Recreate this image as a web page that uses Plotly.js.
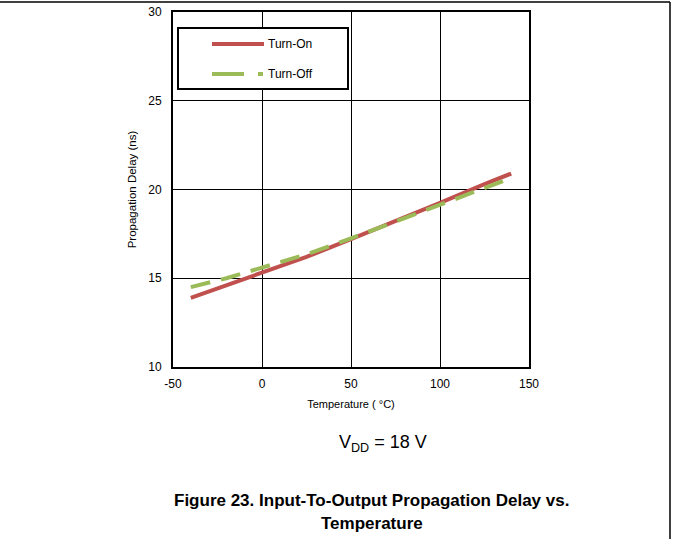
<!DOCTYPE html>
<html>
<head>
<meta charset="utf-8">
<script src="https://cdn.plot.ly/plotly-3.0.1.min.js"></script>
<style>html,body{margin:0;padding:0;background:#fff;}#chart{width:673px;height:539px;}</style>
</head>
<body>
<div id="chart"></div>
<script>
// Data
var temperature = [-40, -20, 0, 25, 50, 75, 100, 125, 140];
var turnOn  = [13.9, 14.6, 15.35, 16.2, 17.2, 18.2, 19.25, 20.3, 20.9];
var turnOff = [14.5, 15.0, 15.6, 16.35, 17.25, 18.2, 19.15, 20.05, 20.65];
var seriesNames = ["Turn-On", "Turn-Off"];
var xTicks = [-50, 0, 50, 100, 150];
var yTicks = [10, 15, 20, 25, 30];

var FONT = "Liberation Sans, Arial, sans-serif";
var L = 173, R = 144, T = 12, B = 172, W = 673, H = 539;
var PW = W - L - R, PH = H - T - B;
function fx(px) { return (px - L) / PW; }
function fy(py) { return (T + PH - py) / PH; }

var red = "#C0504D";
var green = "#9BBB59";

var traces = [
  { x: temperature, y: turnOn, name: seriesNames[0], mode: "lines", type: "scatter",
    line: { color: red, width: 4 } },
  { x: temperature, y: turnOff, name: seriesNames[1], mode: "lines", type: "scatter",
    line: { color: green, width: 4, dash: "20px,11px" } }
];

var shapes = [
  // legend box
  { type: "rect", xref: "paper", yref: "paper", x0: fx(178), x1: fx(348), y0: fy(89), y1: fy(28),
    line: { color: "#000", width: 2 }, fillcolor: "#fff", layer: "above" },
  { type: "line", xref: "paper", yref: "paper", x0: fx(212), x1: fx(264), y0: fy(44), y1: fy(44),
    line: { color: red, width: 4 }, layer: "above" },
  { type: "line", xref: "paper", yref: "paper", x0: fx(212), x1: fx(264), y0: fy(74), y1: fy(74),
    line: { color: green, width: 4, dash: "32px,14px,5px,20px" }, layer: "above" },
  // page frame
  { type: "line", xref: "paper", yref: "paper", x0: fx(0), x1: fx(670), y0: fy(2), y1: fy(2),
    line: { color: "#000", width: 1.5 } },
  { type: "line", xref: "paper", yref: "paper", x0: fx(670), x1: fx(670), y0: fy(2), y1: fy(539),
    line: { color: "#000", width: 1.5 } }
];

var annotations = [
  { text: seriesNames[0], xref: "paper", yref: "paper", x: fx(266), y: fy(44), xanchor: "left", yanchor: "middle",
    showarrow: false, font: { family: FONT, size: 12, color: "#000" } },
  { text: seriesNames[1], xref: "paper", yref: "paper", x: fx(266), y: fy(74), xanchor: "left", yanchor: "middle",
    showarrow: false, font: { family: FONT, size: 12, color: "#000" } },
  { text: "V<sub>DD</sub> = 18 V", xref: "paper", yref: "paper", x: fx(383), y: fy(443), xanchor: "center", yanchor: "middle",
    showarrow: false, font: { family: FONT, size: 18, color: "#000" } },
  { text: "<b>Figure 23. Input-To-Output Propagation Delay vs.</b>", xref: "paper", yref: "paper", x: fx(371), y: fy(500),
    xanchor: "center", yanchor: "middle", showarrow: false, font: { family: FONT, size: 17, color: "#000" } },
  { text: "<b>Temperature</b>", xref: "paper", yref: "paper", x: fx(372), y: fy(523),
    xanchor: "center", yanchor: "middle", showarrow: false, font: { family: FONT, size: 17, color: "#000" } }
];

var layout = {
  width: W, height: H,
  margin: { l: L, r: R, t: T, b: B, pad: 0 },
  paper_bgcolor: "#fff", plot_bgcolor: "#fff",
  showlegend: false,
  font: { family: FONT, size: 11, color: "#000" },
  xaxis: {
    range: [-50, 150], tickvals: xTicks, ticktext: xTicks.map(String),
    showgrid: true, gridcolor: "#000", gridwidth: 1, zeroline: false,
    showline: true, linecolor: "#000", linewidth: 2, mirror: true,
    ticks: "", ticklabelstandoff: 5,
    tickfont: { family: FONT, size: 12, color: "#000", weight: "normal" },
    title: { text: "Temperature ( °C)", font: { family: FONT, size: 11, color: "#000" }, standoff: 10 }
  },
  yaxis: {
    range: [10, 30], tickvals: yTicks, ticktext: yTicks.map(String),
    showgrid: true, gridcolor: "#000", gridwidth: 1, zeroline: false,
    showline: true, linecolor: "#000", linewidth: 2, mirror: true,
    ticks: "", ticklabelstandoff: 7,
    tickfont: { family: FONT, size: 12, color: "#000", weight: "normal" },
    title: { text: "Propagation Delay (ns)", font: { family: FONT, size: 11.5, color: "#000" }, standoff: 9 }
  },
  shapes: shapes,
  annotations: annotations
};

Plotly.newPlot("chart", traces, layout, { displayModeBar: false, staticPlot: true });
</script>
</body>
</html>
